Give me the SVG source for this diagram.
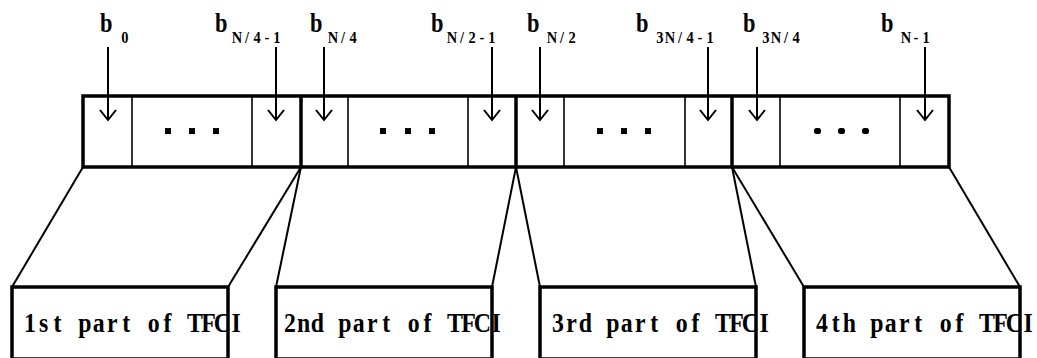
<svg xmlns="http://www.w3.org/2000/svg" width="1037" height="358" viewBox="0 0 1037 358">
<defs>
<style>
.thin{stroke:#000;stroke-width:1.6;fill:none}
.thick{stroke:#000;stroke-width:3.5;fill:none}
.ln{stroke:#000;stroke-width:2;fill:none}
.b{font-family:"Liberation Serif",serif;font-weight:bold;font-size:28px;fill:#000}
.s{font-family:"Liberation Serif",serif;font-weight:bold;font-size:17px;fill:#000;text-anchor:middle}
.t{font-family:"Liberation Serif",serif;font-weight:bold;font-size:28px;fill:#000;text-anchor:middle}
.dot{fill:#000}
</style>
</defs>
<rect width="1037" height="358" fill="#fff"/>

<g id="bitstream">
<line class="thin" x1="132" y1="96" x2="132" y2="167"/>
<line class="thin" x1="252" y1="96" x2="252" y2="167"/>
<line class="thin" x1="348" y1="96" x2="348" y2="167"/>
<line class="thin" x1="468" y1="96" x2="468" y2="167"/>
<line class="thin" x1="564" y1="96" x2="564" y2="167"/>
<line class="thin" x1="685" y1="96" x2="685" y2="167"/>
<line class="thin" x1="780" y1="96" x2="780" y2="167"/>
<line class="thin" x1="900" y1="96" x2="900" y2="167"/>
<line class="thick" x1="301" y1="96" x2="301" y2="167"/>
<line class="thick" x1="516" y1="96" x2="516" y2="167"/>
<line class="thick" x1="732" y1="96" x2="732" y2="167"/>
<rect class="thick" x="83" y="96" width="866" height="71"/>
<rect class="dot" x="165" y="128" width="6" height="6"/>
<rect class="dot" x="189" y="128" width="6" height="6"/>
<rect class="dot" x="213" y="128" width="6" height="6"/>
<rect class="dot" x="380" y="128" width="6" height="6"/>
<rect class="dot" x="405" y="128" width="6" height="6"/>
<rect class="dot" x="429" y="128" width="6" height="6"/>
<rect class="dot" x="597" y="128" width="6" height="6"/>
<rect class="dot" x="621" y="128" width="6" height="6"/>
<rect class="dot" x="645" y="128" width="6" height="6"/>
<rect class="dot" x="814" y="128" width="7" height="6" rx="2.5"/>
<rect class="dot" x="838" y="128" width="7" height="6" rx="2.5"/>
<rect class="dot" x="862" y="128" width="7" height="6" rx="2.5"/>
</g>

<g id="label-b0"><text class="b" transform="translate(100,32) scale(0.8,1)">b</text><text class="s" transform="translate(120,43) scale(0.85,1)" x="5.88">0</text></g>
<g id="label-bN4m1"><text class="b" transform="translate(215,32) scale(0.8,1)">b</text><text class="s" transform="translate(232,43) scale(0.85,1)" x="5.88 17.65 29.41 41.18 52.94">N/4-1</text></g>
<g id="label-bN4"><text class="b" transform="translate(310,32) scale(0.8,1)">b</text><text class="s" transform="translate(328,43) scale(0.85,1)" x="5.88 17.65 29.41">N/4</text></g>
<g id="label-bN2m1"><text class="b" transform="translate(431,32) scale(0.8,1)">b</text><text class="s" transform="translate(447,43) scale(0.85,1)" x="5.88 17.65 29.41 41.18 52.94">N/2-1</text></g>
<g id="label-bN2"><text class="b" transform="translate(527,32) scale(0.8,1)">b</text><text class="s" transform="translate(547,43) scale(0.85,1)" x="5.88 17.65 29.41">N/2</text></g>
<g id="label-b3N4m1"><text class="b" transform="translate(636,32) scale(0.8,1)">b</text><text class="s" transform="translate(655,43) scale(0.85,1)" x="5.88 17.65 29.41 41.18 52.94 64.71">3N/4-1</text></g>
<g id="label-b3N4"><text class="b" transform="translate(743,32) scale(0.8,1)">b</text><text class="s" transform="translate(761,43) scale(0.85,1)" x="5.88 17.65 29.41 41.18">3N/4</text></g>
<g id="label-bNm1"><text class="b" transform="translate(881,32) scale(0.8,1)">b</text><text class="s" transform="translate(901,43) scale(0.85,1)" x="5.88 17.65 29.41">N-1</text></g>

<g id="part1"><rect class="thick" x="12" y="287" width="216" height="72"/><text class="t" transform="translate(23,332) scale(0.85,1)" x="8.09 24.26 40.44 56.62 72.79 88.97 105.15 121.32 137.5 153.68 169.85 186.03 202.21 218.38 234.56 250.74">1st part of TFCI</text></g>
<g id="part2"><rect class="thick" x="276" y="287" width="216" height="72"/><text class="t" transform="translate(283,332) scale(0.85,1)" x="8.09 24.26 40.44 56.62 72.79 88.97 105.15 121.32 137.5 153.68 169.85 186.03 202.21 218.38 234.56 250.74">2nd part of TFCI</text></g>
<g id="part3"><rect class="thick" x="540" y="287" width="216" height="72"/><text class="t" transform="translate(551,332) scale(0.85,1)" x="8.09 24.26 40.44 56.62 72.79 88.97 105.15 121.32 137.5 153.68 169.85 186.03 202.21 218.38 234.56 250.74">3rd part of TFCI</text></g>
<g id="part4"><rect class="thick" x="804" y="287" width="216" height="72"/><text class="t" transform="translate(815,332) scale(0.85,1)" x="8.09 24.26 40.44 56.62 72.79 88.97 105.15 121.32 137.5 153.68 169.85 186.03 202.21 218.38 234.56 250.74">4th part of TFCI</text></g>

<g id="connectors">
<path class="ln" d="M108,47 V120 M100,110 L108,120 L116,110"/>
<path class="ln" d="M276,47 V120 M268,110 L276,120 L284,110"/>
<path class="ln" d="M324,47 V120 M316,110 L324,120 L332,110"/>
<path class="ln" d="M492,47 V120 M484,110 L492,120 L500,110"/>
<path class="ln" d="M540,47 V120 M532,110 L540,120 L548,110"/>
<path class="ln" d="M708,47 V120 M700,110 L708,120 L716,110"/>
<path class="ln" d="M757,47 V120 M749,110 L757,120 L765,110"/>
<path class="ln" d="M925,47 V120 M917,110 L925,120 L933,110"/>
<line class="ln" x1="83" y1="167" x2="12" y2="287"/>
<line class="ln" x1="301" y1="167" x2="228" y2="287"/>
<line class="ln" x1="301" y1="167" x2="276" y2="287"/>
<line class="ln" x1="516" y1="167" x2="492" y2="287"/>
<line class="ln" x1="516" y1="167" x2="540" y2="287"/>
<line class="ln" x1="732" y1="167" x2="756" y2="287"/>
<line class="ln" x1="732" y1="167" x2="804" y2="287"/>
<line class="ln" x1="949" y1="167" x2="1020" y2="287"/>
</g>
</svg>
